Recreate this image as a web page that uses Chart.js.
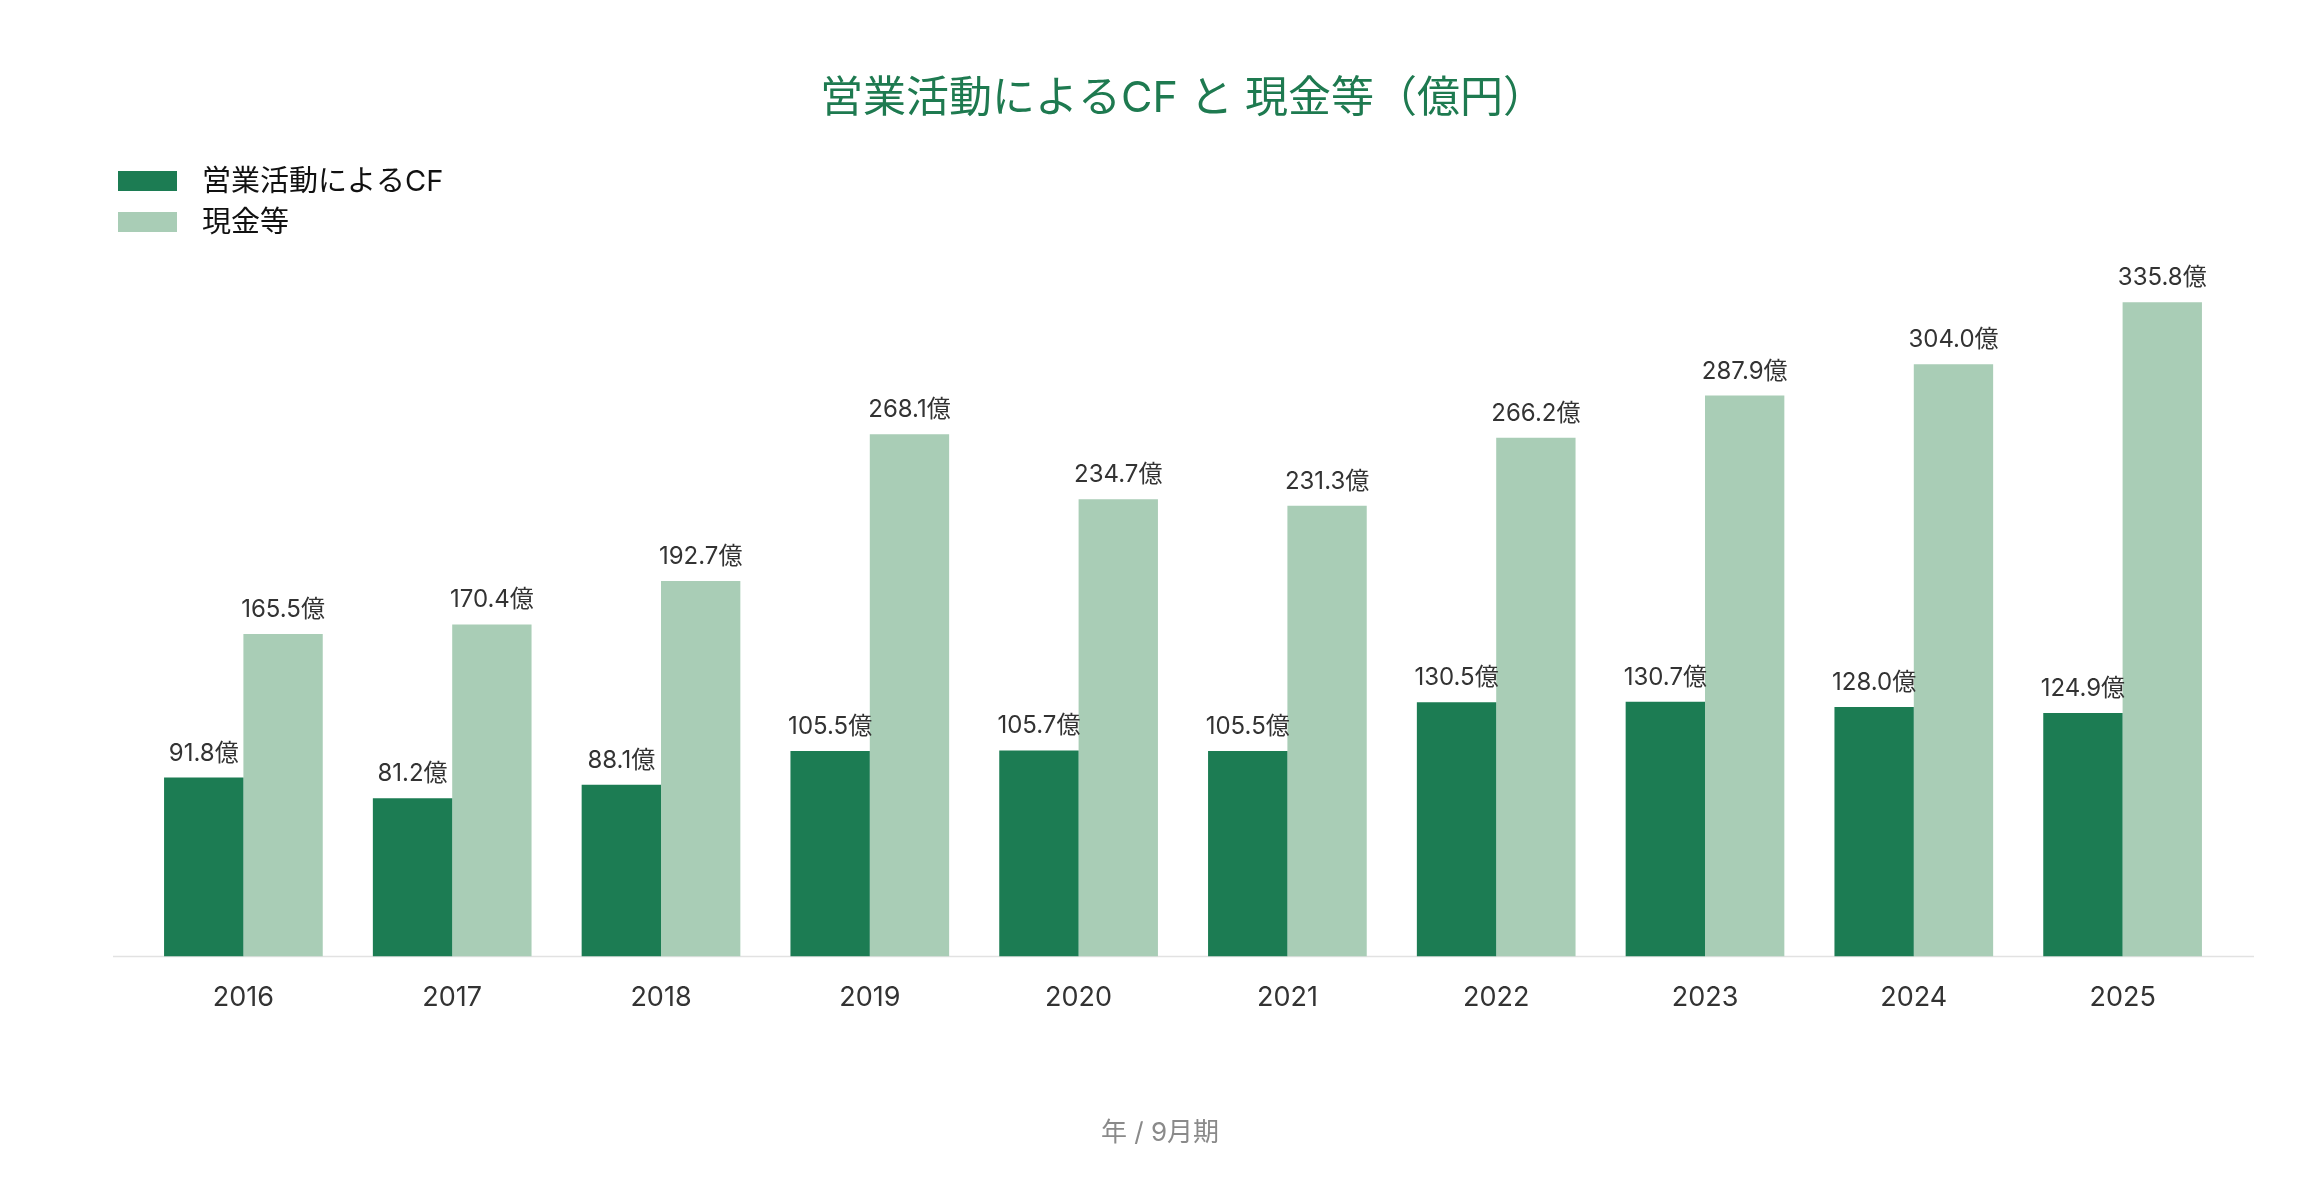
<!DOCTYPE html>
<html>
<head>
<meta charset="utf-8">
<script src="https://cdn.jsdelivr.net/npm/chart.js@4"></script>
<style>
  html, body { margin: 0; padding: 0; background: #ffffff; }
  #wrap { width: 2320px; height: 1180px; position: relative; }
</style>
</head>
<body>
<div id="wrap"><canvas id="c" width="2320" height="1180"></canvas></div>
<script>
const categories = ["2016", "2017", "2018", "2019", "2020", "2021", "2022", "2023", "2024", "2025"];
const operatingCF = [91.8, 81.2, 88.1, 105.5, 105.7, 105.5, 130.5, 130.7, 128.0, 124.9];
const cashEtc = [165.5, 170.4, 192.7, 268.1, 234.7, 231.3, 266.2, 287.9, 304.0, 335.8];
const seriesNames = ["営業活動によるCF", "現金等"];
const chartTitle = "営業活動によるCF と 現金等（億円）";
const xAxisTitle = "年 / 9月期";
const valueSuffix = "億";

const FONT = 'Inter, "Noto Sans CJK JP", "Noto Sans", sans-serif';
const DARK = "#1c7c53";
const LIGHT = "#a9cdb6";

const valueLabels = {
  id: "valueLabels",
  afterDatasetsDraw(chart) {
    const ctx = chart.ctx;
    ctx.save();
    ctx.font = "24px " + FONT;
    ctx.fillStyle = "#333333";
    ctx.textAlign = "center";
    ctx.textBaseline = "alphabetic";
    chart.data.datasets.forEach((ds, i) => {
      const meta = chart.getDatasetMeta(i);
      meta.data.forEach((bar, j) => {
        ctx.fillText(ds.data[j].toFixed(1) + valueSuffix, bar.x, bar.y - 17);
      });
    });
    ctx.restore();
  }
};

const baseLine = {
  id: "baseLine",
  beforeDatasetsDraw(chart) {
    const {ctx, chartArea} = chart;
    const y = chart.scales.y.getPixelForValue(0);
    ctx.save();
    ctx.strokeStyle = "#e2e2e2";
    ctx.lineWidth = 1.5;
    ctx.beginPath();
    ctx.moveTo(chartArea.left - 26, y);
    ctx.lineTo(chartArea.right + 27, y);
    ctx.stroke();
    ctx.restore();
  }
};

const centeredAxisTitle = {
  id: "centeredAxisTitle",
  afterDraw(chart) {
    const ctx = chart.ctx;
    const sc = chart.scales.x;
    const size = 26;
    ctx.save();
    ctx.font = size + "px " + FONT;
    ctx.fillStyle = "#8a8a8a";
    ctx.textAlign = "center";
    ctx.textBaseline = "middle";
    ctx.fillText(xAxisTitle, chart.width / 2, sc.bottom - 31 - size * 1.2 / 2);
    ctx.restore();
  }
};

const stackedLegend = {
  id: "stackedLegend",
  afterDraw(chart) {
    const ctx = chart.ctx;
    ctx.save();
    ctx.font = "29px " + FONT;
    ctx.textAlign = "left";
    ctx.textBaseline = "middle";
    chart.data.datasets.forEach((ds, i) => {
      const top = 171 + i * 41;
      ctx.fillStyle = ds.backgroundColor;
      ctx.fillRect(118, top, 59, 20);
      ctx.fillStyle = "#111111";
      ctx.fillText(ds.label, 202, top + 11);
    });
    ctx.restore();
  }
};

new Chart(document.getElementById("c"), {
  type: "bar",
  data: {
    labels: categories,
    datasets: [
      { label: seriesNames[0], data: operatingCF, backgroundColor: DARK, borderWidth: 0 },
      { label: seriesNames[1], data: cashEtc, backgroundColor: LIGHT, borderWidth: 0 }
    ]
  },
  options: {
    responsive: false,
    animation: false,
    devicePixelRatio: 1,
    layout: { padding: { left: 139, right: 93, top: 0, bottom: 0 } },
    datasets: { bar: { categoryPercentage: 0.76, barPercentage: 1.0 } },
    plugins: {
      legend: { display: false },
      tooltip: { enabled: false },
      title: {
        display: true,
        text: chartTitle,
        color: "#1e7a50",
        font: { family: FONT, size: 43, weight: "normal" },
        padding: { top: 73, bottom: 150 }
      }
    },
    scales: {
      x: {
        grid: { display: false, drawTicks: false },
        border: { display: false },
        ticks: { color: "#333333", font: { family: FONT, size: 27 }, padding: 25 },
        title: {
          display: true,
          text: xAxisTitle,
          color: "rgba(0,0,0,0)",
          font: { family: FONT, size: 26 },
          padding: { top: 79, bottom: 31 }
        }
      },
      y: {
        display: false,
        min: 0,
        max: 350
      }
    }
  },
  plugins: [baseLine, valueLabels, stackedLegend, centeredAxisTitle]
});
</script>
</body>
</html>
